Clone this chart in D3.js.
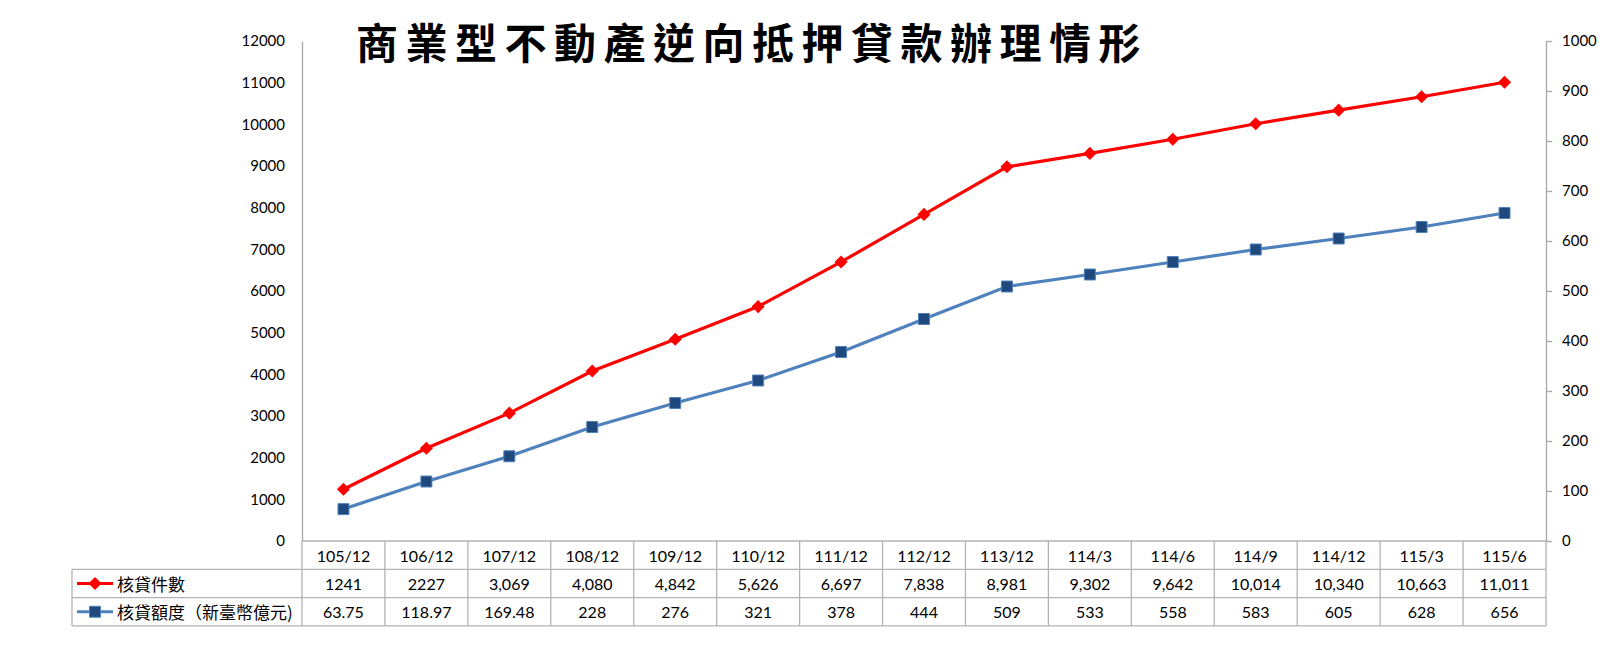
<!DOCTYPE html>
<html>
<head>
<meta charset="utf-8">
<script src="https://cdn.jsdelivr.net/npm/d3@7"></script>
<style>
  body { margin: 0; background: #fff; }
  svg text { font-family: Lato, "Noto Sans CJK TC", sans-serif; fill: #000; }
</style>
</head>
<body>
<svg id="chart" width="1600" height="662"></svg>
<script>
// Chart data
var categories = ['105/12', '106/12', '107/12', '108/12', '109/12', '110/12', '111/12',
                  '112/12', '113/12', '114/3', '114/6', '114/9', '114/12', '115/3', '115/6'];
var caseCount = [1241, 2227, 3069, 4080, 4842, 5626, 6697, 7838, 8981, 9302,
                 9642, 10014, 10340, 10663, 11011];
var loanAmount = [63.75, 118.97, 169.48, 228, 276, 321, 378, 444, 509, 533,
                  558, 583, 605, 628, 656];
var caseLabels = ['1241', '2227', '3,069', '4,080', '4,842', '5,626', '6,697', '7,838',
                  '8,981', '9,302', '9,642', '10,014', '10,340', '10,663', '11,011'];
var amountLabels = ['63.75', '118.97', '169.48', '228', '276', '321', '378', '444',
                    '509', '533', '558', '583', '605', '628', '656'];
var leftTicks = [0, 1000, 2000, 3000, 4000, 5000, 6000, 7000, 8000, 9000, 10000, 11000, 12000];
var rightTicks = [0, 100, 200, 300, 400, 500, 600, 700, 800, 900, 1000];
var seriesNames = ['核貸件數', '核貸額度（新臺幣億元)'];
var title = '商業型不動產逆向抵押貸款辦理情形';

// Layout
var plot = {left: 302, right: 1546, top: 41, bottom: 541};
var tableLeft = 72, rowH = 28.3;

var svg = d3.select('#chart');

var x = d3.scaleBand()
    .domain(categories)
    .range([plot.left, plot.right]);

var yLeft = d3.scaleLinear()
    .domain([0, 12000])
    .range([plot.bottom, plot.top]);

var yRight = d3.scaleLinear()
    .domain([0, 1000])
    .range([plot.bottom, plot.top]);

// Title
svg.append('text')
   .attr('x', 752)
   .attr('y', 40)
   .attr('text-anchor', 'middle')
   .attr('dominant-baseline', 'central')
   .style('font-family', '"Noto Sans CJK TC", sans-serif')
   .style('font-size', '42px')
   .style('font-weight', 700)
   .style('letter-spacing', '7.5px')
   .text(title);

// Left axis
var gl = svg.append('g')
   .attr('transform', 'translate(' + plot.left + ',0)')
   .call(d3.axisLeft(yLeft).tickValues(leftTicks).tickSize(0).tickPadding(17)
           .tickFormat(d3.format('d')));
gl.select('.domain').attr('stroke', '#a6a6a6').attr('stroke-width', 1.3);
gl.selectAll('text').style('font-size', '15px').style('font-family', 'Lato');

// Right axis
var gr = svg.append('g')
   .attr('transform', 'translate(' + plot.right + ',0)')
   .call(d3.axisRight(yRight).tickValues(rightTicks).tickSizeInner(6).tickSizeOuter(0)
           .tickPadding(10).tickFormat(d3.format('d')));
gr.select('.domain').attr('stroke', '#a6a6a6').attr('stroke-width', 1.3);
gr.selectAll('.tick line').attr('stroke', '#a6a6a6').attr('stroke-width', 1.3);
gr.selectAll('text').style('font-size', '15px').style('font-family', 'Lato');

// Data table grid
var table = svg.append('g');
var gridColor = '#b3b3b3';
var rowY = [plot.bottom, plot.bottom + rowH, plot.bottom + 2 * rowH, plot.bottom + 3 * rowH];

// horizontal lines
table.append('line')
     .attr('x1', plot.left).attr('x2', plot.right)
     .attr('y1', rowY[0]).attr('y2', rowY[0]);
[1, 2, 3].forEach(function(i) {
  table.append('line')
       .attr('x1', tableLeft).attr('x2', plot.right)
       .attr('y1', rowY[i]).attr('y2', rowY[i]);
});
// vertical lines
table.append('line')
     .attr('x1', tableLeft).attr('x2', tableLeft)
     .attr('y1', rowY[1]).attr('y2', rowY[3]);
categories.forEach(function(c) {
  table.append('line')
       .attr('x1', x(c)).attr('x2', x(c))
       .attr('y1', rowY[0]).attr('y2', rowY[3]);
});
table.append('line')
     .attr('x1', plot.right).attr('x2', plot.right)
     .attr('y1', rowY[0]).attr('y2', rowY[3]);
table.selectAll('line').attr('stroke', gridColor).attr('stroke-width', 1.3);

// Table text
function tableRow(labels, row) {
  table.selectAll(null)
       .data(labels)
       .enter()
       .append('text')
       .attr('x', function(d, i) { return x(categories[i]) + x.bandwidth() / 2; })
       .attr('y', (rowY[row] + rowY[row + 1]) / 2)
       .attr('text-anchor', 'middle')
       .attr('dominant-baseline', 'central')
       .style('font-size', '16px')
       .text(function(d) { return d; });
}
tableRow(categories, 0);
tableRow(caseLabels, 1);
tableRow(amountLabels, 2);

// Legend keys in table
var diamond = d3.symbol().type(d3.symbolDiamond2).size(110);
var square = d3.symbol().type(d3.symbolSquare).size(120);

var key1 = (rowY[1] + rowY[2]) / 2;
table.append('line')
     .attr('x1', 77).attr('x2', 113).attr('y1', key1).attr('y2', key1)
     .attr('stroke', '#ff0000').attr('stroke-width', 3);
table.append('path')
     .attr('d', diamond)
     .attr('transform', 'translate(95,' + key1 + ')')
     .attr('fill', '#ff0000');
table.append('text')
     .attr('x', 117).attr('y', key1)
     .attr('dominant-baseline', 'central')
     .style('font-family', '"Noto Sans CJK TC", sans-serif')
     .style('font-size', '17px')
     .text(seriesNames[0]);

var key2 = (rowY[2] + rowY[3]) / 2;
table.append('line')
     .attr('x1', 77).attr('x2', 113).attr('y1', key2).attr('y2', key2)
     .attr('stroke', '#4f81bd').attr('stroke-width', 3);
table.append('path')
     .attr('d', square)
     .attr('transform', 'translate(95,' + key2 + ')')
     .attr('fill', '#1f497d').attr('stroke', '#4f81bd').attr('stroke-width', 1);
table.append('text')
     .attr('x', 117).attr('y', key2)
     .attr('dominant-baseline', 'central')
     .style('font-family', '"Noto Sans CJK TC", sans-serif')
     .style('font-size', '17px')
     .text(seriesNames[1]);

// Lines
var cx = function(d, i) { return x(categories[i]) + x.bandwidth() / 2; };

var lineLeft = d3.line()
    .x(cx)
    .y(function(d) { return yLeft(d); });
var lineRight = d3.line()
    .x(cx)
    .y(function(d) { return yRight(d); });

svg.append('path')
   .datum(loanAmount)
   .attr('d', lineRight)
   .attr('fill', 'none')
   .attr('stroke', '#4f81bd')
   .attr('stroke-width', 3.2);

svg.append('path')
   .datum(caseCount)
   .attr('d', lineLeft)
   .attr('fill', 'none')
   .attr('stroke', '#ff0000')
   .attr('stroke-width', 3.2);

// Markers
svg.selectAll('.sq')
   .data(loanAmount)
   .enter()
   .append('path')
   .attr('class', 'sq')
   .attr('d', square)
   .attr('transform', function(d, i) { return 'translate(' + cx(d, i) + ',' + yRight(d) + ')'; })
   .attr('fill', '#1f497d')
   .attr('stroke', '#4f81bd')
   .attr('stroke-width', 1);

svg.selectAll('.dm')
   .data(caseCount)
   .enter()
   .append('path')
   .attr('class', 'dm')
   .attr('d', diamond)
   .attr('transform', function(d, i) { return 'translate(' + cx(d, i) + ',' + yLeft(d) + ')'; })
   .attr('fill', '#ff0000');
</script>
</body>
</html>
